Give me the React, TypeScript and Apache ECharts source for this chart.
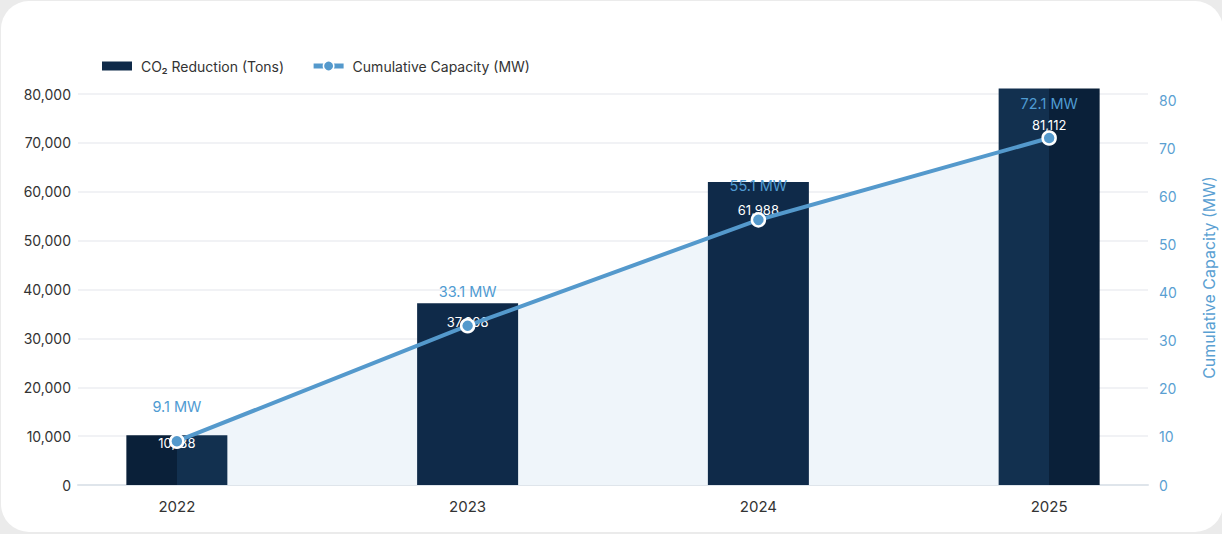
import React, { useEffect, useRef } from "react";
import * as echarts from "echarts";

const years = ["2022", "2023", "2024", "2025"];
const co2Reduction = [10188, 37208, 61988, 81112];
const capacityMW = [9.1, 33.1, 55.1, 72.1];
const leftTicks = { min: 0, max: 80000, interval: 10000 };
const rightTicks = { min: 0, max: 81.25, interval: 10 };

const BAR_NAME = "CO\u2082 Reduction (Tons)";
const LINE_NAME = "Cumulative Capacity (MW)";
const FONT = "Inter, 'Noto Sans', sans-serif";

function splitGradient(a: string, b: string) {
  return {
    type: "linear",
    x: 0,
    y: 0,
    x2: 1,
    y2: 0,
    colorStops: [
      { offset: 0, color: a },
      { offset: 0.5, color: a },
      { offset: 0.5, color: b },
      { offset: 1, color: b },
    ],
  };
}

export default function App() {
  const ref = useRef<HTMLDivElement>(null);

  useEffect(() => {
    if (!ref.current) return;
    const chart = echarts.init(ref.current, undefined, { renderer: "svg" });

    const barColors = [
      splitGradient("#0a2039", "#12304f"),
      "#0f2a49",
      "#0f2a49",
      splitGradient("#12304f", "#0a2039"),
    ];

    const barData = co2Reduction.map((v, i) => ({
      value: [i, v],
      itemStyle: { color: barColors[i] },
    }));
    const lineData = capacityMW.map((v, i) => [i, v]);

    chart.setOption({
      animation: false,
      textStyle: { fontFamily: FONT },
      legend: {
        left: 97,
        top: 54,
        itemGap: 27,
        itemWidth: 30,
        itemHeight: 13,
        symbolKeepAspect: true,
        data: [
          { name: BAR_NAME, icon: "path://M0,0 H30 V9 H0 Z" },
          {
            name: LINE_NAME,
            lineStyle: { width: 5 },
            itemStyle: { borderColor: "#ffffff", borderWidth: 1.5 },
          },
        ],
        textStyle: {
          color: "#333",
          fontSize: 14,
          fontFamily: FONT,
          padding: [0, 0, 0, 4],
        },
      },
      grid: {
        left: 78,
        right: 74,
        top: 94,
        bottom: 49,
        containLabel: false,
        outerBoundsMode: "none",
      },
      xAxis: {
        type: "value",
        min: -0.34,
        max: 3.34,
        splitLine: { show: false },
        axisTick: { show: false },
        axisLine: { show: true, lineStyle: { color: "#dfe5eb", width: 2 } },
        axisLabel: {
          customValues: [0, 1, 2, 3],
          formatter: (v: number) => years[Math.round(v)] ?? "",
          color: "#333",
          fontSize: 15,
          margin: 14,
          fontFamily: FONT,
        },
      },
      yAxis: [
        {
          type: "value",
          min: leftTicks.min,
          max: leftTicks.max,
          interval: leftTicks.interval,
          axisLine: { show: false },
          axisTick: { show: false },
          splitLine: { lineStyle: { color: "#eceef2", width: 1.5 } },
          axisLabel: {
            color: "#333",
            fontSize: 14,
            margin: 7,
            fontFamily: FONT,
            formatter: (v: number) => v.toLocaleString("en-US"),
          },
        },
        {
          type: "value",
          min: rightTicks.min,
          max: rightTicks.max,
          interval: rightTicks.interval,
          position: "right",
          axisLine: { show: false },
          axisTick: { show: false },
          splitLine: { show: false },
          axisLabel: {
            color: "#5a9fd2",
            fontSize: 14,
            margin: 11,
            showMaxLabel: false,
            fontFamily: FONT,
          },
          name: LINE_NAME,
          nameLocation: "middle",
          nameGap: 53,
          nameRotate: 90,
          nameTextStyle: {
            color: "#5a9fd2",
            fontSize: 16,
            fontFamily: FONT,
            padding: [0, 0, 0, 24],
          },
        },
      ],
      series: [
        {
          name: "area",
          type: "line",
          yAxisIndex: 1,
          data: lineData,
          symbol: "none",
          silent: true,
          lineStyle: { width: 0 },
          areaStyle: { color: "#eff5fa", opacity: 1 },
          z: 1,
        },
        {
          name: BAR_NAME,
          type: "bar",
          yAxisIndex: 0,
          data: barData,
          barWidth: 101,
          clip: false,
          itemStyle: { color: "#0f2a49" },
          label: {
            show: true,
            position: ["50%", "8.2%"],
            offset: [0, 3.5],
            align: "center",
            verticalAlign: "middle",
            color: "#ffffff",
            fontSize: 13,
            fontFamily: FONT,
            formatter: (p: any) => Number(p.value[1]).toLocaleString("en-US"),
          },
          z: 2,
        },
        {
          name: LINE_NAME,
          type: "line",
          yAxisIndex: 1,
          data: lineData,
          symbol: "circle",
          symbolSize: 13,
          itemStyle: { color: "#5499cc", borderColor: "#ffffff", borderWidth: 2.5 },
          lineStyle: { color: "#5499cc", width: 4 },
          label: {
            show: true,
            position: "top",
            distance: 19,
            color: "#4f9bd2",
            fontSize: 14.5,
            fontFamily: FONT,
            formatter: (p: any) => `${p.value[1]} MW`,
          },
          z: 3,
        },
      ],
    });

    return () => chart.dispose();
  }, []);

  return (
    <div
      style={{
        position: "fixed",
        left: 0,
        top: 0,
        width: 1222,
        height: 534,
        background: "#ebebeb",
        overflow: "hidden",
      }}
    >
      <div
        style={{
          position: "absolute",
          left: 1,
          top: 1,
          width: 1222,
          height: 531,
          background: "#ffffff",
          borderRadius: 28,
        }}
      />
      <div
        ref={ref}
        style={{ position: "absolute", left: 0, top: 0, width: 1222, height: 534 }}
      />
    </div>
  );
}
